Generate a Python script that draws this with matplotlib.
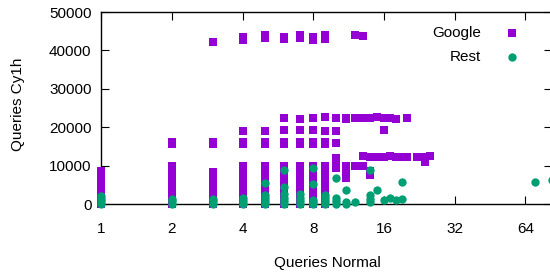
import matplotlib
matplotlib.use('Agg')
import matplotlib.pyplot as plt
from matplotlib.ticker import FixedLocator, NullLocator

plt.rcParams['font.family'] = ['Liberation Sans', 'DejaVu Sans']
plt.rcParams['font.size'] = 11

# Google: (queries normal, queries cy1h)
google_x = ([1] * 12 + [2] * 14 + [3] * 13 + [4] * 17 + [5] * 17 + [6] * 18 + [7] * 18
            + [8] * 18 + [9] * 18 + [10] * 6 + [11] * 5 + [12] * 3 + [13] * 4 + [14] * 4
            + [15] * 2 + [16] * 3 + [17] * 2 + [18] * 2 + [19] + [20] * 2 + [22] + [24] * 2 + [25])
google_y = [
    100, 900, 1700, 2500, 3300, 4100, 4900, 5700, 6500, 7300, 8000, 8600,
    0, 900, 1800, 2700, 3600, 4500, 5400, 6300, 7200, 8100, 9000, 9900, 15600, 16200,
    0, 900, 1800, 2700, 3600, 4500, 5400, 6300, 7200, 8300, 15600, 16100, 42200,
    0, 900, 1800, 2700, 3600, 4500, 5400, 6300, 7200, 8100, 9000, 9900, 15600, 16200, 19100, 42600, 43500,
    0, 900, 1800, 2700, 3600, 4500, 5400, 6300, 7200, 8100, 9000, 9900, 15700, 16200, 19000, 43300, 44100,
    0, 900, 1800, 2700, 3600, 4500, 5400, 6300, 7200, 8100, 9000, 9900, 15700, 16200, 19300, 22400, 43000, 43600,
    0, 900, 1800, 2700, 3600, 4500, 5400, 6300, 7200, 8100, 9000, 9900, 15700, 16200, 19200, 22200, 43100, 44100,
    0, 900, 1800, 2700, 3600, 4500, 5400, 6300, 7200, 8100, 9000, 9900, 15700, 16200, 19400, 22500, 42600, 43600,
    0, 900, 1800, 2700, 3600, 4500, 5400, 6300, 7200, 8100, 9000, 9900, 15700, 16200, 19000, 22600, 43000, 43900,
    9500, 10800, 12100, 16000, 19000, 22300,
    6800, 8300, 9800, 22200, 22500,
    9800, 22500, 43900,
    10000, 12400, 22400, 43800,
    7500, 8700, 12300, 22500,
    12300, 22600,
    12300, 19300, 22500,
    12400, 22300,
    12300, 22200,
    12300,
    12200, 22400,
    12300,
    11000, 12300,
    12400,
]

# Rest
rest_x = ([1] * 4 + [2] * 3 + [3] * 3 + [4] * 3 + [5] * 5 + [6] * 6 + [7] * 4 + [8] * 5
          + [9] * 4 + [10] * 4 + [11] * 3 + [12] + [14] * 4 + [15] + [16] + [17] + [18]
          + [19] * 2 + [70] + [83])
rest_y = [
    0, 700, 1400, 2100,
    0, 700, 1400,
    0, 700, 1400,
    0, 700, 1500,
    0, 800, 1600, 2400, 5500,
    0, 800, 1600, 2500, 4300, 8900,
    0, 800, 1600, 2600,
    0, 500, 1000, 5200, 9400,
    0, 800, 1600, 2400,
    0, 700, 1500, 6900,
    0, 600, 3700,
    600,
    500, 1400, 2300, 8900,
    3700,
    1000,
    1600,
    1000,
    1300, 5700,
    5600,
    6200,
]

x_ticks = [1, 2, 4, 8, 16, 32, 64]
y_ticks = [0, 10000, 20000, 30000, 40000, 50000]

fig = plt.figure(figsize=(5.5, 2.72), dpi=100)
ax = fig.add_axes([101.2 / 550, 1 - 204 / 272, (552 - 101.2) / 550, 192 / 272])

ax.scatter(google_x, google_y, s=36, marker='s', color='#9400D3', linewidths=0,
           label='Google', clip_on=False, zorder=3)
ax.scatter(rest_x, rest_y, s=36, marker='o', color='#009E73', linewidths=0,
           label='Rest', clip_on=False, zorder=4)

ax.set_xscale('log', base=2)
ax.set_xlim(1, 83)
ax.set_ylim(0, 50000)
ax.xaxis.set_major_locator(FixedLocator(x_ticks))
ax.xaxis.set_minor_locator(NullLocator())
ax.set_xticklabels([str(t) for t in x_ticks])
ax.set_yticks(y_ticks)
ax.set_yticklabels([str(t) for t in y_ticks])

ax.tick_params(direction='in', length=5.8, width=0.8, top=True, right=True,
               colors='black', labelsize=11)
ax.tick_params(axis='x', pad=13)
ax.tick_params(axis='y', pad=7)
for s in ax.spines.values():
    s.set_linewidth(1.0)

ax.set_xlabel('Queries Normal')
ax.set_ylabel('Queries Cy1h')
ax.xaxis.set_label_coords(0.501, -0.27)
ax.yaxis.set_label_coords(-0.169, 0.52)

ax.legend(loc='upper right', bbox_to_anchor=(516.6 / 550, 1 - 26 / 272),
          bbox_transform=fig.transFigure, markerfirst=False, frameon=False,
          handlelength=0.6, handletextpad=1.7, borderpad=0, borderaxespad=0,
          labelspacing=0.68, fontsize=11)

fig.savefig('out.png', dpi=100)
